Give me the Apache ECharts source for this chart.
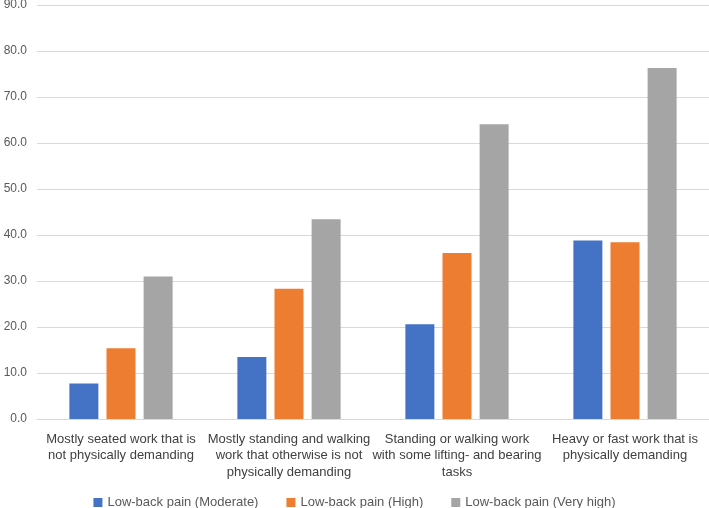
<!DOCTYPE html>
<html>
<head>
<meta charset="utf-8">
<script src="https://cdn.jsdelivr.net/npm/echarts@6/dist/echarts.min.js"></script>
<style>
html,body{margin:0;padding:0;background:#fff;}
#chart{width:709px;height:508px;}
</style>
</head>
<body>
<div id="chart"></div>
<script>
const categories = [
  "Mostly seated work that is\nnot physically demanding",
  "Mostly standing and walking\nwork that otherwise is not\nphysically demanding",
  "Standing or walking work\nwith some lifting- and bearing\ntasks",
  "Heavy or fast work that is\nphysically demanding"
];
const seriesNames = ["Low-back pain (Moderate)", "Low-back pain (High)", "Low-back pain (Very high)"];
const moderate = [7.7, 13.5, 20.6, 38.8];
const high = [15.4, 28.3, 36.1, 38.4];
const veryHigh = [31.0, 43.4, 64.1, 76.3];
const colors = ["#4472C4", "#ED7D31", "#A5A5A5"];

const font = "'Liberation Sans', Arial, sans-serif";
const chart = echarts.init(document.getElementById('chart'), null, {renderer: 'canvas'});
const dataSets = [moderate, high, veryHigh];
chart.setOption({
  animation: false,
  color: colors,
  textStyle: {fontFamily: font},
  grid: {left: 37, right: 0, top: 5, bottom: 89, containLabel: false, outerBoundsMode: 'none'},
  legend: {
    data: seriesNames,
    top: 496,
    padding: [0, 5],
    left: 'center',
    itemWidth: 9,
    itemHeight: 9,
    itemGap: 28,
    icon: 'rect',
    textStyle: {color: '#595959', fontSize: 13, fontFamily: font}
  },
  xAxis: {
    type: 'category',
    data: categories,
    axisLine: {lineStyle: {color: '#d9d9d9', width: 1}},
    axisTick: {show: false},
    axisLabel: {color: '#404040', fontSize: 13, lineHeight: 16.5, margin: 12, interval: 0, fontFamily: font}
  },
  yAxis: {
    type: 'value',
    min: 0,
    max: 90,
    interval: 10,
    axisLine: {show: false},
    axisTick: {show: false},
    splitLine: {lineStyle: {color: '#d9d9d9', width: 1}},
    axisLabel: {color: '#595959', fontSize: 12, margin: 10, formatter: v => v.toFixed(1), fontFamily: font}
  },
  series: seriesNames.map((n, i) => ({
    name: n,
    type: 'bar',
    data: dataSets[i],
    barWidth: 29,
    barGap: '28%',
    itemStyle: {color: colors[i]}
  }))
});
</script>
</body>
</html>
